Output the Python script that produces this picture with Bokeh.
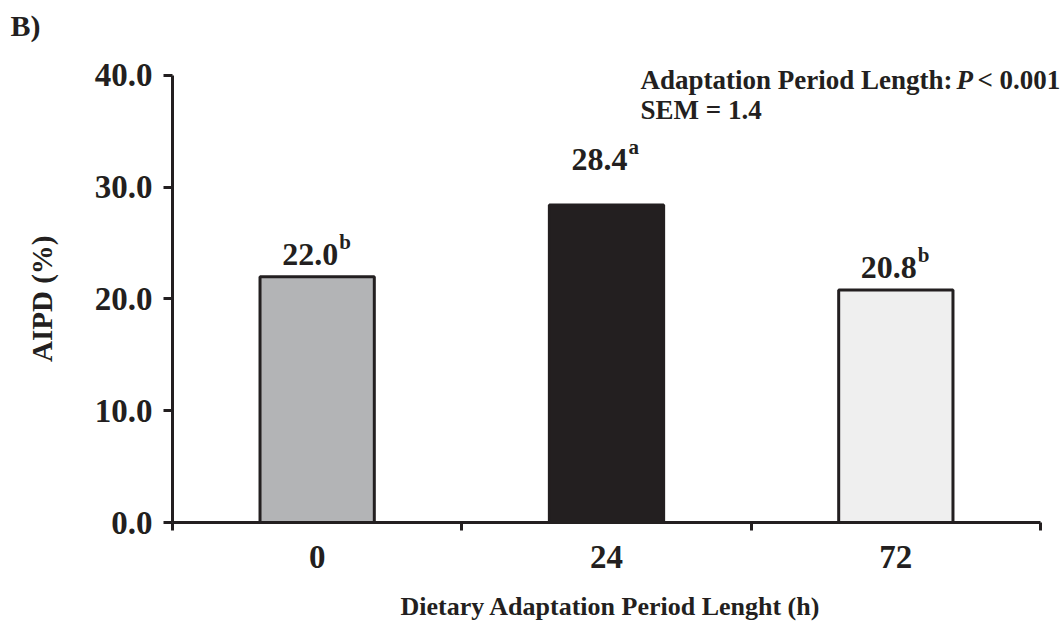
from bokeh.plotting import figure
from bokeh.models import Range1d, FixedTicker, Label, NumeralTickFormatter, ColumnDataSource, Title
from bokeh.embed import file_html
from bokeh.resources import INLINE

categories = ["0", "24", "72"]
aipd = [22.0, 28.4, 20.8]
letters = ["b", "a", "b"]
colors = ["#b3b4b6", "#231f20", "#efefef"]
y_ticks = [0, 10, 20, 30, 40]
y_max = 40

# layout: how far (in axis units) each value label sits above its bar
label_lift = [2.0, 4.1, 2.0]

FONT = "Liberation Serif"
INK = "#231f20"

# frame: left 172, top 60, right 1064, bottom 523 ; axes span 0..40 (448 px) and 0..3 (868 px)
FRAME_W, FRAME_H = 1064 - 172, 523 - 60
AX_W, AX_H = 868, 448
x_end = len(categories) * FRAME_W / AX_W
y_end = y_max * FRAME_H / AX_H

xs = [i + 0.5 for i in range(len(categories))]
src = ColumnDataSource(dict(
    x=xs, top=aipd, color=colors,
    label=[f"{v:.1f}" for v in aipd], sup=letters,
    ly=[v + d for v, d in zip(aipd, label_lift)],
    sy=[v + d + 1.1 for v, d in zip(aipd, label_lift)],
))

p = figure(width=1064, height=640, output_backend="svg", toolbar_location=None,
           x_range=Range1d(0, x_end), y_range=Range1d(0, y_end),
           min_border_left=172, min_border_right=0, min_border_top=60, min_border_bottom=117)
p.outline_line_color = None
p.xgrid.grid_line_color = None
p.ygrid.grid_line_color = None
p.background_fill_color = "white"

p.title.text = "B)\n\u00a0"
p.title.text_font = FONT
p.title.text_font_style = "bold"
p.title.text_font_size = "30px"
p.title.text_line_height = 0.4
p.title.text_color = INK
p.title.align = "left"
p.title.offset = -162

p.vbar(x="x", top="top", bottom=0, width=0.395, fill_color="color", line_color=INK,
       line_width=3, source=src)

p.text(x="x", y="ly", text="label", source=src, text_align="right", text_baseline="alphabetic",
       x_offset=21, text_font=FONT, text_font_style="bold", text_font_size="32px", text_color=INK)
p.text(x="x", y="sy", text="sup", source=src, text_align="left", text_baseline="alphabetic",
       x_offset=22, text_font=FONT, text_font_style="bold", text_font_size="21px", text_color=INK)

# axes
xa = p.xaxis[0]
xa.bounds = (0, len(categories))
xa.ticker = FixedTicker(ticks=xs, minor_ticks=list(range(len(categories) + 1)))
xa.major_label_overrides = {x: c for x, c in zip(xs, categories)}
xa.major_tick_out = 0
xa.major_tick_in = 0
xa.minor_tick_out = 8
xa.minor_tick_in = 0
xa.minor_tick_line_width = 3
xa.minor_tick_line_color = INK
xa.axis_line_width = 3
xa.axis_line_color = INK
xa.major_label_text_font = FONT
xa.major_label_text_font_style = "bold"
xa.major_label_text_font_size = "33px"
xa.major_label_text_color = INK
xa.major_label_standoff = 15

ya = p.yaxis[0]
ya.bounds = (0, y_max)
ya.ticker = FixedTicker(ticks=y_ticks, minor_ticks=[])
ya.formatter = NumeralTickFormatter(format="0.0")
ya.major_tick_out = 9
ya.major_tick_in = 0
ya.major_tick_line_width = 3
ya.major_tick_line_color = INK
ya.minor_tick_line_color = None
ya.axis_line_width = 3
ya.axis_line_color = INK
ya.major_label_text_font = FONT
ya.major_label_text_font_style = "bold"
ya.major_label_text_font_size = "33px"
ya.major_label_text_color = INK
ya.major_label_standoff = 11
# trailing no-break spaces re-centre the label on the 0-40 axis extent
ya.axis_label = "AIPD (%)\u00a0\u00a0"
ya.axis_label_text_font = FONT
ya.axis_label_text_font_style = "bold"
ya.axis_label_text_font_size = "29px"
ya.axis_label_text_color = INK
ya.axis_label_standoff = 34

# x-axis title as a side-panel title so it centres on the axis extent
p.add_layout(Title(text="Dietary Adaptation Period Lenght (h)", align="left", offset=228,
                   standoff=39, text_font=FONT, text_font_style="bold",
                   text_font_size="26px", text_color=INK), "below")

def lab(x, y, t, style="bold", size="27px"):
    p.add_layout(Label(x=x, y=y, text=t, text_font=FONT,
                       text_font_style=style, text_font_size=size, text_color=INK,
                       text_baseline="alphabetic", text_align="left"))

lab(1.6175, 39.6, "Adaptation Period Length:")
lab(2.710, 39.6, "P", style="bold italic")
lab(2.782, 39.6, "< 0.001")
lab(1.6175, 36.9, "SEM = 1.4")

open("out.html", "w").write(file_html(p, INLINE))
